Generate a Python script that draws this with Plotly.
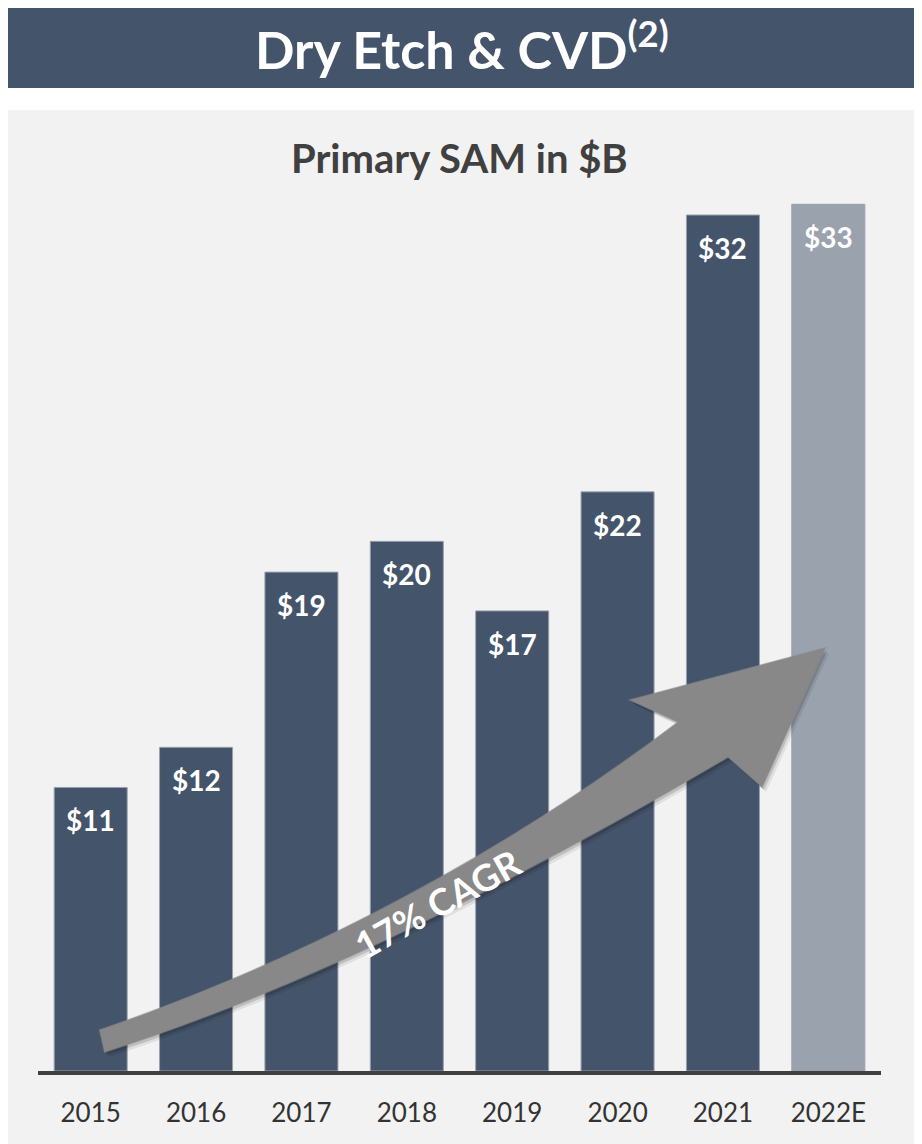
import plotly.graph_objects as go

# ---- data ----
years = ["2015", "2016", "2017", "2018", "2019", "2020", "2021", "2022E"]
sam_values = [10.6, 12.1, 18.65, 19.8, 17.2, 21.65, 32.0, 32.4]
value_labels = ["$11", "$12", "$19", "$20", "$17", "$22", "$32", "$33"]
bar_colors = ["#44546A"] * 7 + ["#9AA2AE"]

positions = list(range(len(years)))

# page offset (browser body margin)
OFF = 8
W, H = 922 - OFF, 1144 - OFF
# plot area in page pixels
PL, PR, PT, PB = 38.4, 880.8, 150, 1071
L, R, T, B = PL - OFF, W - (PR - OFF), PT - OFF, H - (PB - OFF)
YMAX = (PB - PT) / 26.75


def px(x):
    return (x - PL) / (PR - PL)


def py(y):
    return (PB - y) / (PB - PT)


def path(cmds):
    out = []
    for c in cmds:
        if isinstance(c, str):
            out.append(c)
        else:
            out.append(f"{px(c[0]):.5f},{py(c[1]):.5f}")
    return " ".join(out)


FONT = "Lato, 'Open Sans', sans-serif"

fig = go.Figure()
fig.add_trace(go.Bar(
    x=positions, y=sam_values,
    width=0.693,
    marker=dict(color=bar_colors, line=dict(color="#98A1AE", width=1)),
    hoverinfo="skip",
))

# value labels inside bar tops
for xi, v, lab in zip(positions, sam_values, value_labels):
    fig.add_annotation(x=xi, y=v, xref="x", yref="y", text=lab, showarrow=False, yshift=-33,
                       font=dict(family=FONT, size=28, color="white", weight="bold"),
                       xanchor="center", yanchor="middle")

shapes = []
# header band
shapes.append(dict(type="rect", xref="paper", yref="paper", x0=px(0), x1=px(920), y0=py(0), y1=py(88),
                   fillcolor="#44546A", line=dict(width=0), layer="below"))
# grey panel
shapes.append(dict(type="rect", xref="paper", yref="paper", x0=px(5), x1=px(918), y0=py(110), y1=py(1150),
                   fillcolor="#F2F2F2", line=dict(width=0), layer="below"))

arrow = [
    "M", (100, 1030),
    "C", (260, 975), (470, 880), (678, 722),
    "L", (630, 700),
    "L", (825, 648),
    "L", (762, 787),
    "L", (728, 757),
    "C", (520, 880), (300, 990), (105, 1052),
    "Z",
]


def shifted(cmds, dx, dy):
    return [c if isinstance(c, str) else (c[0] + dx, c[1] + dy) for c in cmds]


# soft shadow
for dx, dy, op in [(4, 5, 0.08), (2, 3, 0.14)]:
    shapes.append(dict(type="path", xref="paper", yref="paper", path=path(shifted(arrow, dx, dy)),
                       fillcolor=f"rgba(0,0,0,{op})", line=dict(width=0), layer="above"))
shapes.append(dict(type="path", xref="paper", yref="paper", path=path(arrow),
                   fillcolor="#888888", line=dict(color="rgba(136,136,136,0.6)", width=1.5), layer="above"))

fig.update_layout(shapes=shapes)

# header title
fig.add_annotation(xref="paper", yref="paper", x=px(462), y=py(46), showarrow=False,
                   text="Dry Etch &amp; CVD<sup>(2)</sup>",
                   font=dict(family=FONT, size=52, color="white", weight="bold"),
                   xanchor="center", yanchor="middle")
# chart title
fig.add_annotation(xref="paper", yref="paper", x=px(460), y=py(158), showarrow=False,
                   text="Primary SAM in $B",
                   font=dict(family=FONT, size=40, color="#404040", weight="bold"),
                   xanchor="center", yanchor="middle")
# CAGR text
fig.add_annotation(xref="paper", yref="paper", x=px(437), y=py(903), showarrow=False,
                   text="17% CAGR", textangle=-29,
                   font=dict(family=FONT, size=37, color="white", weight="bold"),
                   xanchor="center", yanchor="middle")

fig.update_layout(
    width=W, height=H,
    margin=dict(l=L, r=R, t=T, b=B, pad=0),
    paper_bgcolor="white",
    plot_bgcolor="rgba(0,0,0,0)",
    showlegend=False,
    xaxis=dict(type="linear", range=[-0.5, len(years) - 0.5],
               tickmode="array", tickvals=positions, ticktext=years,
               showline=True, linecolor="#404040", linewidth=4, showgrid=False, zeroline=False,
               ticks="outside", ticklen=16, tickcolor="rgba(0,0,0,0)",
               tickfont=dict(family=FONT, size=26, color="#333333"), fixedrange=True),
    yaxis=dict(range=[0, YMAX], visible=False, showgrid=False, fixedrange=True),
)

fig.write_html("out.html")
